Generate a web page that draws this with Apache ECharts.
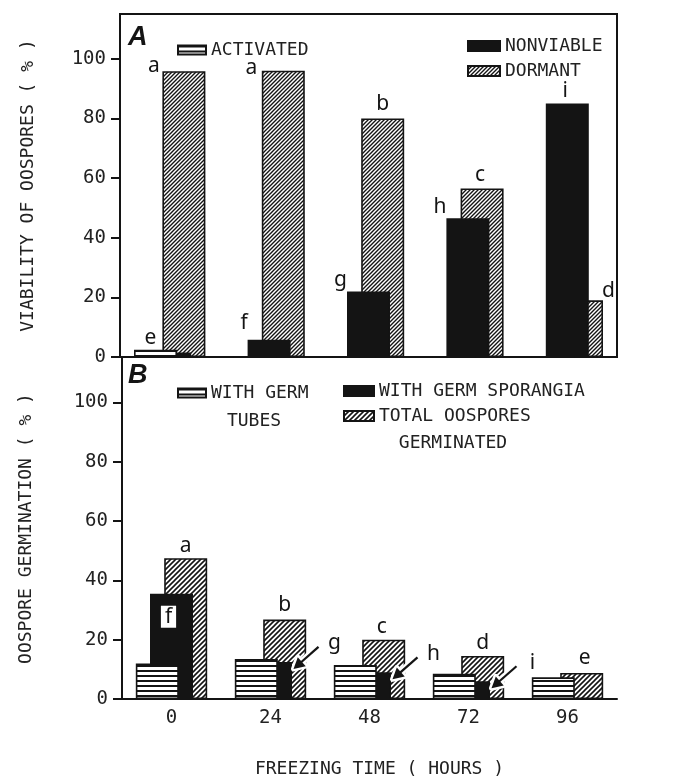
<!DOCTYPE html>
<html><head><meta charset="utf-8">
<script src="https://cdn.jsdelivr.net/npm/echarts@6/dist/echarts.min.js"></script>
<style>html,body{margin:0;padding:0;background:#fff}#c{width:677px;height:779px}</style>
</head><body><div id="c"></div>
<script>
// ---------- DATA ----------
const categories = ['0', '24', '48', '72', '96'];          // freezing time (hours)
const yTickValues = [0, 20, 40, 60, 80, 100];

// Panel A: viability of oospores (%)
const activated = [2.4, 0, 0, 0, 0];
const nonviable = [1.5, 5.8, 22, 46.5, 85];
const dormant   = [95.8, 96, 80, 56.5, 19];
const lettersActivated = ['e', '', '', '', ''];
const lettersNonviable = ['', 'f', 'g', 'h', 'i'];
const lettersDormant   = ['a', 'a', 'b', 'c', 'd'];

// Panel B: oospore germination (%)
const germTubes       = [12, 13.5, 11.5, 8.5, 7.3];
const germSporangia   = [35.5, 12.5, 9, 6, 0];
const totalGerminated = [47.5, 26.8, 20, 14.5, 8.8];
const lettersSporangia = ['f', 'g', 'h', 'i', ''];
const lettersTotal     = ['a', 'b', 'c', 'd', 'e'];

// ---------- LAYOUT (label offsets, px) ----------
const offActivated = [[-5, 3], [0, 0], [0, 0], [0, 0], [0, 0]];
const offNonviable = [[0, 0], [-25, -2], [-28, 3], [-28, 3], [-2, 2]];
const offDormant   = [[-30, 9], [-32, 12], [0, 0], [-2, 1], [27, 5]];
const offSporangia = [[-3, 8], [64, -4], [64, -4], [64, -4], [0, 0]];
const offTotal     = [[0, 2], [0, 0], [-2, 2], [0, 2], [3, 0]];

const INK = '#141414';
const MONO = 'DejaVu Sans Mono';
const LETTER_FONT = 'Noto Sans';

function hatch(size, lw) {
  const c = document.createElement('canvas');
  c.width = size; c.height = size;
  const g = c.getContext('2d');
  g.fillStyle = '#fff'; g.fillRect(0, 0, size, size);
  g.strokeStyle = INK; g.lineWidth = lw; g.lineCap = 'square';
  g.beginPath();
  g.moveTo(-1, size + 1); g.lineTo(size + 1, -1);
  g.moveTo(-1, 1); g.lineTo(1, -1);
  g.moveTo(size - 1, size + 1); g.lineTo(size + 1, size - 1);
  g.stroke();
  return c;
}
function stripes(period, thick) {
  const c = document.createElement('canvas');
  c.width = 4; c.height = period;
  const g = c.getContext('2d');
  g.fillStyle = '#fff'; g.fillRect(0, 0, 4, period);
  g.fillStyle = INK; g.fillRect(0, 0, 4, thick);
  return c;
}
const patDormant = { image: hatch(4, 1.4), repeat: 'repeat' };
const patTotal = { image: hatch(5, 1.6), repeat: 'repeat' };
const patStripe = { image: stripes(5, 2), repeat: 'repeat' };

function items(values, letters, offsets, special) {
  return values.map((v, i) => {
    const lab = letters[i]
      ? Object.assign({ show: true, formatter: letters[i], offset: offsets[i] }, (special && special[i]) || {})
      : { show: false };
    return { value: v, label: lab };
  });
}

const baseLabel = { show: true, position: 'top', distance: 4, fontFamily: LETTER_FONT, fontSize: 21, color: INK };
const bw = 43, gap = '-67%';
function barSeries(name, xi, data, fill, z) {
  return {
    type: 'bar', name, xAxisIndex: xi, yAxisIndex: xi, data,
    barWidth: bw, barGap: gap, z,
    itemStyle: { color: fill, borderColor: INK, borderWidth: 1.6 },
    label: baseLabel,
    emphasis: { disabled: true }
  };
}

const axisText = { fontFamily: MONO, fontSize: 19, color: '#222' };

const chart = echarts.init(document.getElementById('c'), null, { renderer: 'canvas' });
const legendText = { fontFamily: MONO, fontSize: 18, color: '#222' };
const option = {
  animation: false,
  backgroundColor: '#fff',
  title: [
    { text: 'A', left: 128, top: 24, padding: 0, textStyle: { fontSize: 27, fontStyle: 'italic', fontWeight: 'bold', fontFamily: 'Liberation Sans', color: INK } },
    { text: 'B', left: 128, top: 362, padding: 0, textStyle: { fontSize: 27, fontStyle: 'italic', fontWeight: 'bold', fontFamily: 'Liberation Sans', color: INK } }
  ],
  legend: [
    { data: ['ACTIVATED'], left: 177, top: 41, padding: 0, icon: 'rect', itemWidth: 28, itemHeight: 9, textStyle: legendText, selectedMode: false },
    { data: ['NONVIABLE', 'DORMANT'], orient: 'vertical', left: 467, top: 37, padding: 0, itemGap: 7, icon: 'rect', itemWidth: 32, itemHeight: 10, textStyle: legendText, selectedMode: false },
    { data: ['WITH GERM TUBES'], left: 177, top: 384, padding: 0, icon: 'rect', itemWidth: 28, itemHeight: 9, textStyle: legendText, selectedMode: false,
      formatter: () => 'WITH GERM' },
    { data: ['WITH GERM SPORANGIA', 'TOTAL OOSPORES GERMINATED'], orient: 'vertical', left: 343, top: 382, padding: 0, itemGap: 7, icon: 'rect', itemWidth: 30, itemHeight: 10, textStyle: legendText, selectedMode: false,
      formatter: n => n === 'TOTAL OOSPORES GERMINATED' ? 'TOTAL OOSPORES' : n }
  ],
  grid: [
    { left: 120, top: 14, width: 497, height: 343, show: true, borderColor: INK, borderWidth: 2, backgroundColor: 'transparent' },
    { left: 122, top: 358, width: 495, height: 342 }
  ],
  xAxis: [
    { type: 'category', gridIndex: 0, data: categories, axisLine: { lineStyle: { color: INK, width: 2 } }, axisTick: { show: false }, axisLabel: { show: false } },
    { type: 'category', gridIndex: 1, data: categories, axisLine: { lineStyle: { color: INK, width: 2 } }, axisTick: { show: false },
      axisLabel: Object.assign({ margin: 10 }, axisText),
      name: 'FREEZING TIME ( HOURS )', nameLocation: 'middle', nameGap: 61,
      nameTextStyle: { fontFamily: MONO, fontSize: 18, color: '#222', padding: [0, 0, 0, 20] } }
  ],
  yAxis: [0, 1].map(i => ({
    type: 'value', gridIndex: i, min: 0, max: 115, interval: 20,
    axisLine: { show: true, lineStyle: { color: INK, width: 2 } },
    axisTick: { show: true, length: 9, lineStyle: { color: INK, width: 2 }, customValues: yTickValues },
    axisLabel: Object.assign({ margin: 14, customValues: yTickValues }, axisText),
    splitLine: { show: false },
    name: i === 0 ? 'VIABILITY OF OOSPORES ( % )' : 'OOSPORE GERMINATION ( % )',
    nameLocation: 'middle', nameGap: i === 0 ? 83 : 87,
    nameTextStyle: { fontFamily: MONO, fontSize: 18, color: '#222' }
  })),
  series: [
    barSeries('ACTIVATED', 0, items(activated, lettersActivated, offActivated), patStripe, 6),
    barSeries('NONVIABLE', 0, items(nonviable, lettersNonviable, offNonviable), INK, 5),
    barSeries('DORMANT', 0, items(dormant, lettersDormant, offDormant), patDormant, 4),
    barSeries('WITH GERM TUBES', 1, items(germTubes, [], []), patStripe, 6),
    barSeries('WITH GERM SPORANGIA', 1, items(germSporangia, lettersSporangia, offSporangia,
      [{ position: 'insideTop', backgroundColor: '#fff', padding: [1, 4, 0, 4], color: INK }]), INK, 5),
    barSeries('TOTAL OOSPORES GERMINATED', 1, items(totalGerminated, lettersTotal, offTotal), patTotal, 4)
  ]
};
chart.setOption(option);

// continuation lines of the two-line legend entries + arrows to small sporangia bars
const graphics = [
  { type: 'text', z: 50, style: { text: 'TUBES', x: 254, y: 421, align: 'center', verticalAlign: 'middle', font: '18px "' + MONO + '"', fill: '#222' } },
  { type: 'text', z: 50, style: { text: 'GERMINATED', x: 453, y: 443, align: 'center', verticalAlign: 'middle', font: '18px "' + MONO + '"', fill: '#222' } }
];
germSporangia.forEach((v, i) => {
  if (!lettersSporangia[i] || i === 0) return;
  const p = chart.convertToPixel({ gridIndex: 1 }, [i, v]);
  const tail = [p[0] + 48, p[1] - 15], tip = [p[0] + 23, p[1] + 7];
  const dx = tip[0] - tail[0], dy = tip[1] - tail[1], L = Math.hypot(dx, dy);
  const ux = dx / L, uy = dy / L, nx = -uy, ny = ux;
  const hl = 11, hw = 6;
  const base = [tip[0] - ux * hl, tip[1] - uy * hl];
  const head = [tip, [base[0] + nx * hw, base[1] + ny * hw], [base[0] - nx * hw, base[1] - ny * hw]];
  graphics.push(
    { type: 'line', z: 60, shape: { x1: tail[0], y1: tail[1], x2: base[0], y2: base[1] }, style: { stroke: '#fff', lineWidth: 7 } },
    { type: 'polygon', z: 60, shape: { points: head }, style: { fill: '#fff', stroke: '#fff', lineWidth: 5, lineJoin: 'round' } },
    { type: 'line', z: 61, shape: { x1: tail[0], y1: tail[1], x2: base[0] + ux * 2, y2: base[1] + uy * 2 }, style: { stroke: INK, lineWidth: 2.2 } },
    { type: 'polygon', z: 61, shape: { points: head }, style: { fill: INK } }
  );
});
chart.setOption({ graphic: graphics });
</script>
</body></html>
